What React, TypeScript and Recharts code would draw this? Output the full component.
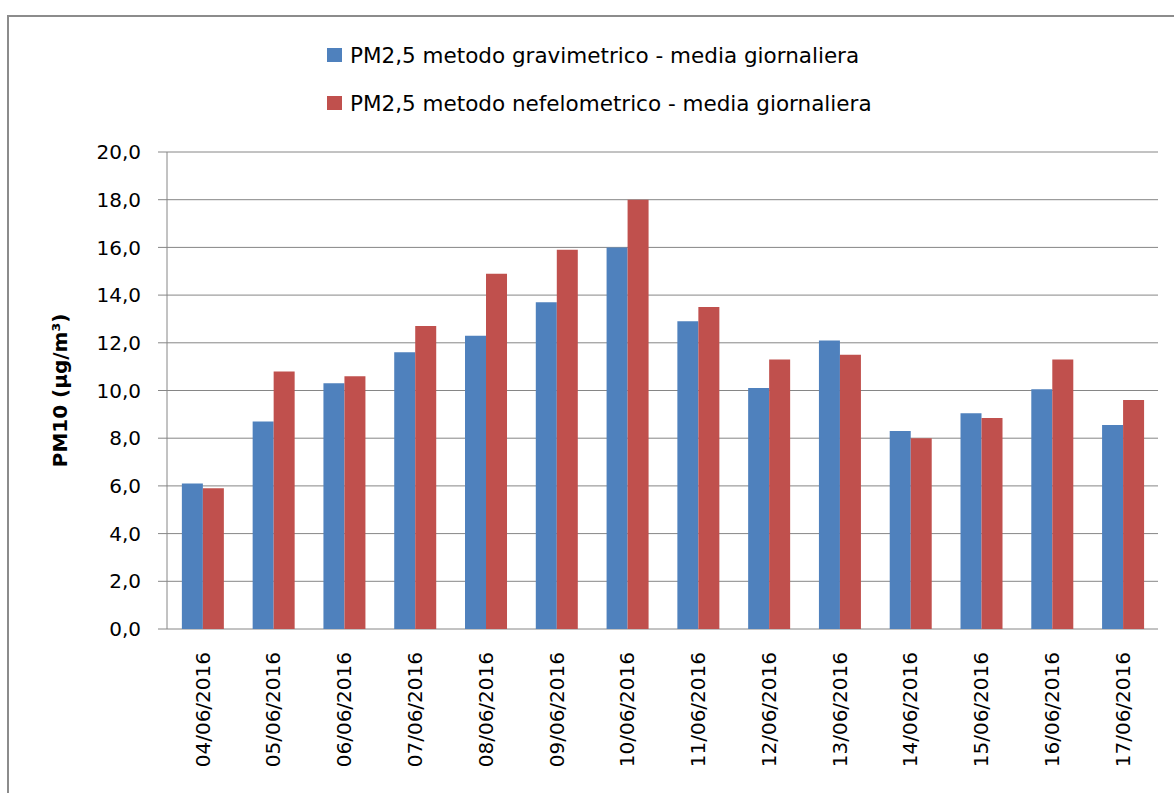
import { BarChart, Bar, XAxis, YAxis, CartesianGrid, Legend } from "recharts";

const DATES = [
  "04/06/2016", "05/06/2016", "06/06/2016", "07/06/2016", "08/06/2016", "09/06/2016", "10/06/2016",
  "11/06/2016", "12/06/2016", "13/06/2016", "14/06/2016", "15/06/2016", "16/06/2016", "17/06/2016",
];
const GRAVIMETRICO = [6.1, 8.7, 10.3, 11.6, 12.3, 13.7, 16.0, 12.9, 10.1, 12.1, 8.3, 9.05, 10.05, 8.55];
const NEFELOMETRICO = [5.9, 10.8, 10.6, 12.7, 14.9, 15.9, 18.0, 13.5, 11.3, 11.5, 8.0, 8.85, 11.3, 9.6];
const Y_TICKS = [0, 2, 4, 6, 8, 10, 12, 14, 16, 18, 20];
const EDGE_TICKS = DATES.map((_, i) => i).concat(DATES.length);

const GRAV_NAME = "PM2,5 metodo gravimetrico - media giornaliera";
const NEF_NAME = "PM2,5 metodo nefelometrico - media giornaliera";

const data = DATES.map((d, i) => ({ date: d, grav: GRAVIMETRICO[i], nef: NEFELOMETRICO[i] }));

const AXIS = "#868686";
const FONT = "'DejaVu Sans', sans-serif";

function DateTick({ x, y, payload }: any) {
  return (
    <g transform={`translate(${x},${y})`}>
      <text transform="rotate(-90)" textAnchor="end" dy="0.36em" fill="#000" fontSize={20} fontFamily={FONT}>
        {payload.value}
      </text>
    </g>
  );
}

function LegendBox({ payload }: any) {
  return (
    <div style={{ fontFamily: FONT, fontSize: 21.5, color: "#000" }}>
      {(payload || []).map((p: any) => (
        <div key={p.value} style={{ height: 48, display: "flex", alignItems: "center", whiteSpace: "nowrap" }}>
          <span style={{ display: "inline-block", width: 15, height: 14, background: p.color, marginRight: 8 }} />
          {p.value}
        </div>
      ))}
    </div>
  );
}

function YLabel({ viewBox }: any) {
  const cy = viewBox.y + viewBox.height / 2;
  return (
    <text x={51} y={cy} transform={`rotate(-90, 51, ${cy})`} textAnchor="middle" dy="0.36em"
      fontFamily={FONT} fontWeight="bold" fontSize={20} fill="#000">
      PM10 (µg/m³)
    </text>
  );
}

export default function App() {
  return (
    <div style={{ position: "absolute", left: 7, top: 15, width: 1180, height: 800, border: "2px solid #8c8c8c", background: "#fff" }}>
      <BarChart width={1165} height={776} data={data} margin={{ top: 135, right: 16, bottom: 0, left: 0 }}
        barCategoryGap="21%" barGap={0}>
        <CartesianGrid vertical={false} stroke={AXIS} strokeWidth={1} />
        <XAxis xAxisId="edges" type="number" domain={[0, DATES.length]} ticks={EDGE_TICKS} tick={false}
          height={0} tickSize={7} stroke={AXIS} axisLine={{ stroke: AXIS }} tickLine={{ stroke: AXIS }} allowDataOverflow />
        <XAxis xAxisId="cat" dataKey="date" interval={0} height={164} axisLine={false} tickLine={false}
          tickSize={0} tickMargin={23} tick={<DateTick />} />
        <YAxis domain={[0, 20]} ticks={Y_TICKS} width={158} interval={0}
          tickFormatter={(v: number) => v.toFixed(1).replace(".", ",")}
          tick={{ fill: "#000", fontSize: 20, fontFamily: FONT }}
          axisLine={{ stroke: AXIS }} tickLine={{ stroke: AXIS }} tickSize={9} tickMargin={17}
          label={<YLabel />} />
        <Legend layout="vertical" align="center" verticalAlign="middle" content={<LegendBox />}
          wrapperStyle={{ position: "absolute", left: 318, top: 14, width: "auto", height: "auto" }} />
        <Bar xAxisId="cat" dataKey="grav" name={GRAV_NAME} fill="#4F81BD" isAnimationActive={false} />
        <Bar xAxisId="cat" dataKey="nef" name={NEF_NAME} fill="#C0504D" isAnimationActive={false} />
      </BarChart>
    </div>
  );
}
